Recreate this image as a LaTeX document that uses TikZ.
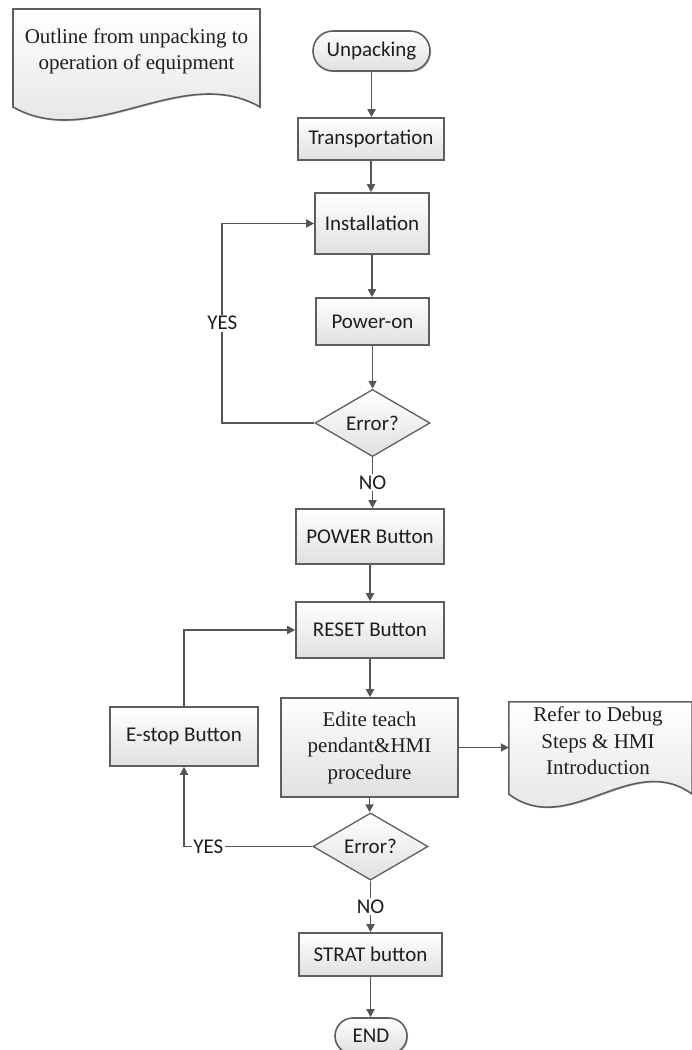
\documentclass[tikz,border=0pt]{standalone}
\usepackage{fontspec}
\setmainfont{Liberation Serif}
\newfontfamily\calfont{Carlito}
\usetikzlibrary{arrows.meta,shapes.geometric,shadows}
\definecolor{linec}{HTML}{555555}
\definecolor{edgec}{HTML}{5E5E5E}
\definecolor{txtc}{HTML}{1E1E1E}
\definecolor{boxbot}{HTML}{E0E0E0}
\begin{document}
\begin{tikzpicture}[x=1pt,y=-1pt,
  sans/.style={font=\calfont\fontsize{21}{25}\selectfont},
  serif/.style={font=\fontsize{21}{26.5}\selectfont},
  boxfill/.style={top color=white,bottom color=boxbot},
  shad/.style={drop shadow={shadow xshift=1.2pt,shadow yshift=-1.2pt,opacity=0.22,fill=black}},
  box/.style={draw=edgec,line width=1.6pt,boxfill,shad,inner sep=0pt,sans,text=txtc},
  dec/.style={diamond,draw=edgec,line width=1.3pt,boxfill,inner sep=0pt,sans,text=txtc,minimum width=115pt,minimum height=44pt},
  conn/.style={draw=linec,line width=1.8pt,-{Triangle[length=8pt,width=8pt]}},
  lbl/.style={fill=white,inner sep=1.5pt,sans,text=txtc},
  doc/.style={draw=edgec,line width=1.6pt,boxfill,shad}]
\useasboundingbox (0,0) rectangle (692,1050);
\clip (0,0) rectangle (692,1050);

% documents
\path[doc] (13,9) -- (260,9) -- (260,107) .. controls (182,62) and (92,152) .. (13,107) -- cycle;
\node[serif,text=txtc,align=center] (outline) at (136.5,51.5) {Outline from unpacking to\\operation of equipment};

\node[minimum width=183pt,minimum height=92pt,inner sep=0pt] (refer) at (600.5,748) {};
\path[doc] (refer.north west) -- (refer.north east) -- (refer.south east) .. controls (632,750) and (569,839) .. (refer.south west) -- cycle;
\node[serif,text=txtc,align=center] (refertxt) at (598,741) {Refer to Debug\\Steps \& HMI\\Introduction};

% nodes
\node[box,rounded corners=20pt,minimum width=117pt,minimum height=40pt] (unpack) at (371.5,51) {Unpacking};
\node[box,minimum width=146pt,minimum height=42pt] (trans) at (371,139) {Transportation};
\node[box,minimum width=114pt,minimum height=61pt] (inst) at (372,223.5) {Installation};
\node[box,minimum width=113pt,minimum height=47pt] (poweron) at (372.5,321.5) {Power-on};
\node[dec] (err1) at (372.5,423) {Error?};
\node[box,minimum width=148pt,minimum height=55pt] (power) at (370,536.5) {POWER Button};
\node[box,minimum width=148pt,minimum height=56pt] (reset) at (370,630) {RESET Button};
\node[box,serif,align=center,minimum width=177pt,minimum height=99pt] (edite) at (369.5,747.5) {Edite teach\\pendant\&HMI\\procedure};
\node[box,minimum width=148pt,minimum height=59pt] (estop) at (184,736.5) {E-stop Button};
\node[dec,minimum height=43pt] (err2) at (370.5,846.5) {Error?};
\node[box,minimum width=143pt,minimum height=43pt] (strat) at (370.5,954.5) {STRAT button};
\node[box,rounded corners=18pt,minimum width=72pt,minimum height=36pt] (endn) at (371,1036) {END};

% connectors
\draw[conn] (unpack.south) -- (unpack.south |- trans.north);
\draw[conn] (trans.south) -- (trans.south |- inst.north);
\draw[conn] (inst.south) -- (inst.south |- poweron.north);
\draw[conn] (poweron.south) -- (poweron.south |- err1.north);
\draw[conn] (err1.west) -- ++(-92,0) coordinate (c1) -- node[lbl]{YES} (c1 |- inst.west) -- (inst.west);
\draw[conn] (err1.south) -- node[lbl]{NO} (err1.south |- power.north);
\draw[conn] (power.south) -- (power.south |- reset.north);
\draw[conn] (reset.south) -- (reset.south |- edite.north);
\draw[conn] (edite.east) -- (refer.west |- edite.east);
\draw[conn] (edite.south) -- (edite.south |- err2.north);
\draw[conn] (err2.west) -- node[lbl,pos=0.81]{YES} (err2.west -| estop.south) -- (estop.south);
\draw[conn] (estop.north) |- (reset.west);
\draw[conn] (err2.south) -- node[lbl]{NO} (err2.south |- strat.north);
\draw[conn] (strat.south) -- (strat.south |- endn.north);
\end{tikzpicture}
\end{document}
